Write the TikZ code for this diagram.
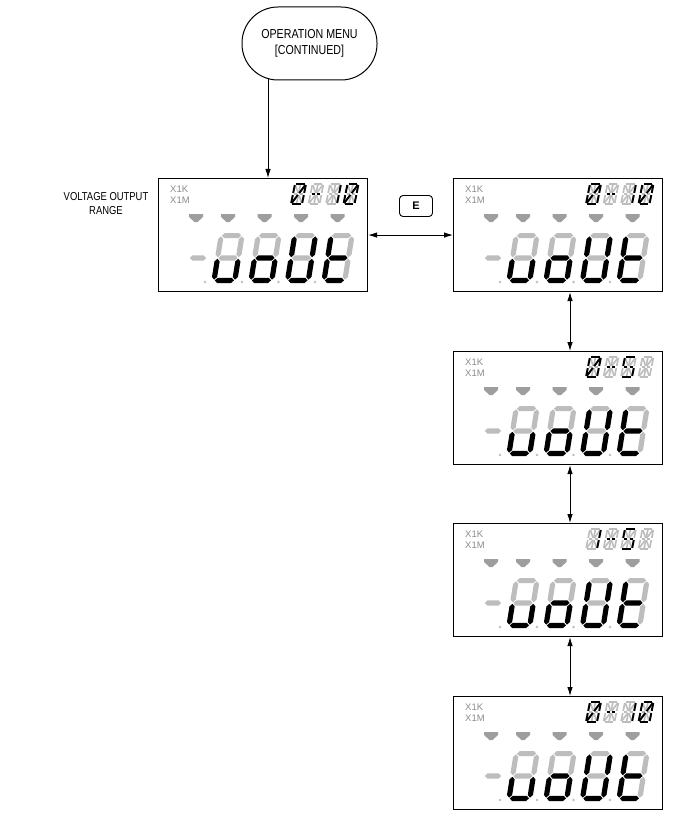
\documentclass[tikz,border=0pt]{standalone}
\usepackage{fontspec}
\setmainfont{Liberation Sans}
\newfontfamily\narrowf[FakeStretch=0.82]{Liberation Sans}
\usetikzlibrary{arrows.meta}
\definecolor{lcdgrey}{gray}{0.74}
\definecolor{mkgrey}{gray}{0.62}
\definecolor{txgrey}{gray}{0.55}
\tikzset{
  sgon/.style={fill=black},
  sgoff/.style={fill=lcdgrey},
  ason/.style={draw=black, line width=1.9pt, shorten <=1.1pt, shorten >=1.1pt},
  asoff/.style={draw=lcdgrey, line width=1.6pt, shorten <=1.1pt, shorten >=1.1pt},
  lcdbox/.style={draw, line width=1.1pt, minimum width=209pt, minimum height=113pt, anchor=north west, inner sep=0pt},
  arr/.style={line width=0.9pt, -{Latex[length=9pt,width=5.5pt]}},
  darr/.style={line width=0.9pt, {Latex[length=9pt,width=5.5pt]}-{Latex[length=9pt,width=5.5pt]}},
}
\def\DK{2.6}
\newcommand\hsg[4]{\fill[#1] ({#2+0.8},{#4}) -- ({#2+0.8+\DK},{#4+\DK}) -- ({#3-0.8-\DK},{#4+\DK}) -- ({#3-0.8},{#4}) -- ({#3-0.8-\DK},{#4-\DK}) -- ({#2+0.8+\DK},{#4-\DK}) -- cycle;}
\newcommand\vsg[4]{\fill[#1] ({#4},{#2+0.8}) -- ({#4+\DK},{#2+0.8+\DK}) -- ({#4+\DK},{#3-0.8-\DK}) -- ({#4},{#3-0.8}) -- ({#4-\DK},{#3-0.8-\DK}) -- ({#4-\DK},{#2+0.8+\DK}) -- cycle;}
\newcommand\bigdig[7]{%
  \hsg{#1}{2.6}{23.4}{47.4}%
  \vsg{#2}{25}{47.4}{23.4}%
  \vsg{#3}{2.6}{25}{23.4}%
  \hsg{#4}{2.6}{23.4}{2.6}%
  \vsg{#5}{2.6}{25}{2.6}%
  \vsg{#6}{25}{47.4}{2.6}%
  \hsg{#7}{2.6}{23.4}{25}}
% 14-segment character, w=11, h=20
\newcommand\lcsa[1]{\draw[#1] (0,20) -- (11,20);}
\newcommand\lcsb[1]{\draw[#1] (11,20) -- (11,10);}
\newcommand\lcsc[1]{\draw[#1] (11,10) -- (11,0);}
\newcommand\lcsd[1]{\draw[#1] (0,0) -- (11,0);}
\newcommand\lcse[1]{\draw[#1] (0,0) -- (0,10);}
\newcommand\lcsf[1]{\draw[#1] (0,10) -- (0,20);}
\newcommand\lcsp[1]{\draw[#1] (0,10) -- (5.5,10);}
\newcommand\lcsq[1]{\draw[#1] (5.5,10) -- (11,10);}
\newcommand\lcsh[1]{\draw[#1] (0,20) -- (5.5,10);}
\newcommand\lcsi[1]{\draw[#1] (5.5,20) -- (5.5,10);}
\newcommand\lcsj[1]{\draw[#1] (11,20) -- (5.5,10);}
\newcommand\lcsk[1]{\draw[#1] (0,0) -- (5.5,10);}
\newcommand\lcsl[1]{\draw[#1] (5.5,0) -- (5.5,10);}
\newcommand\lcsm[1]{\draw[#1] (11,0) -- (5.5,10);}
\newcommand\lcsnone[1]{}
\def\chZero{a,b,c,d,e,f,j,k}
\def\chDash{p,q}
\def\chOne{b,c}
\def\chFive{a,f,p,q,c,d}
\def\chBlank{none}
\newcommand\alnum[1]{%
  \foreach \s in {a,b,c,d,e,f,p,q,h,i,j,k,l,m} {\csname lcs\s\endcsname{asoff}}%
  \foreach \s in #1 {\csname lcs\s\endcsname{ason}}}
\newcommand\lcd[7]{%
  \node[lcdbox] (#1) at (#2,#3) {};
  \begin{scope}[shift={(#2,#3)}]
    \node[anchor=west, inner sep=0pt, text=txgrey, font=\fontsize{9.5}{9.5}\selectfont] at (12,11) {X1K};
    \node[anchor=west, inner sep=0pt, text=txgrey, font=\fontsize{9.5}{9.5}\selectfont] at (12,22) {X1M};
    \foreach \mx in {38,70,106.5,143,179.5} {\fill[mkgrey] ({\mx-7},36) -- ({\mx+7},36) -- ({\mx+7},39) -- ({\mx+1.5},44) -- ({\mx-1.5},44) -- ({\mx-7},39) -- cycle;}
    \hsg{sgoff}{31}{49}{80}
    \foreach \dx in {47,84,120.5,157} {\fill[lcdgrey] (\dx,104) circle (1.3pt);}
    \begin{scope}[shift={(53,105)}, y=1pt, xslant=0.16]
      \bigdig{sgoff}{sgoff}{sgon}{sgon}{sgon}{sgoff}{sgoff}
    \end{scope}
    \begin{scope}[shift={(90,105)}, y=1pt, xslant=0.16]
      \bigdig{sgoff}{sgoff}{sgon}{sgon}{sgon}{sgoff}{sgon}
    \end{scope}
    \begin{scope}[shift={(126.5,105)}, y=1pt, xslant=0.16]
      \bigdig{sgoff}{sgon}{sgon}{sgon}{sgon}{sgon}{sgoff}
    \end{scope}
    \begin{scope}[shift={(163,105)}, y=1pt, xslant=0.16]
      \bigdig{sgoff}{sgoff}{sgoff}{sgon}{sgon}{sgon}{sgon}
    \end{scope}
    \begin{scope}[shift={(133,26)}, y=1pt, xslant=0.2]\alnum{#4}\end{scope}
    \begin{scope}[shift={(150.5,26)}, y=1pt, xslant=0.2]\alnum{#5}\end{scope}
    \begin{scope}[shift={(168,26)}, y=1pt, xslant=0.2]\alnum{#6}\end{scope}
    \begin{scope}[shift={(185.5,26)}, y=1pt, xslant=0.2]\alnum{#7}\end{scope}
  \end{scope}}
\begin{document}
\begin{tikzpicture}[x=1pt, y=-1pt]
  \fill[white] (0,0) rectangle (678,829);
  \useasboundingbox (0,0) rectangle (678,829);
  \node[draw, line width=1pt, rounded corners=36pt, minimum width=135pt, minimum height=73pt, inner sep=0pt, align=center, font=\narrowf\fontsize{13}{16}\selectfont] (term) at (309.5,43.5) {OPERATION MENU\\{}[CONTINUED]};
  \node[align=center, inner sep=0pt, font=\narrowf\fontsize{11.5}{14}\selectfont] (lbl) at (106,204) {VOLTAGE OUTPUT\\RANGE};
  \lcd{lcd1}{158}{178}{\chZero}{\chDash}{\chOne}{\chZero}
  \lcd{lcd2}{453}{178}{\chZero}{\chDash}{\chOne}{\chZero}
  \lcd{lcd3}{453}{351}{\chZero}{\chDash}{\chFive}{\chBlank}
  \lcd{lcd4}{453}{523}{\chOne}{\chDash}{\chFive}{\chBlank}
  \lcd{lcd5}{453}{696}{\chZero}{\chDash}{\chOne}{\chZero}
  \node[draw, line width=0.9pt, rounded corners=3.5pt, minimum width=33pt, minimum height=21pt, inner sep=0pt, font=\bfseries\fontsize{11}{11}\selectfont] (ebtn) at (416,206) {E};
  \coordinate (t1) at (268,78.5);
  \coordinate (colx) at (570,0);
  \draw[arr] (t1) -- (t1 |- lcd1.north);
  \draw[darr] (lcd1.east) -- (lcd2.west);
  \draw[darr] (lcd2.south -| colx) -- (lcd3.north -| colx);
  \draw[darr] (lcd3.south -| colx) -- (lcd4.north -| colx);
  \draw[darr] (lcd4.south -| colx) -- (lcd5.north -| colx);
\end{tikzpicture}
\end{document}
